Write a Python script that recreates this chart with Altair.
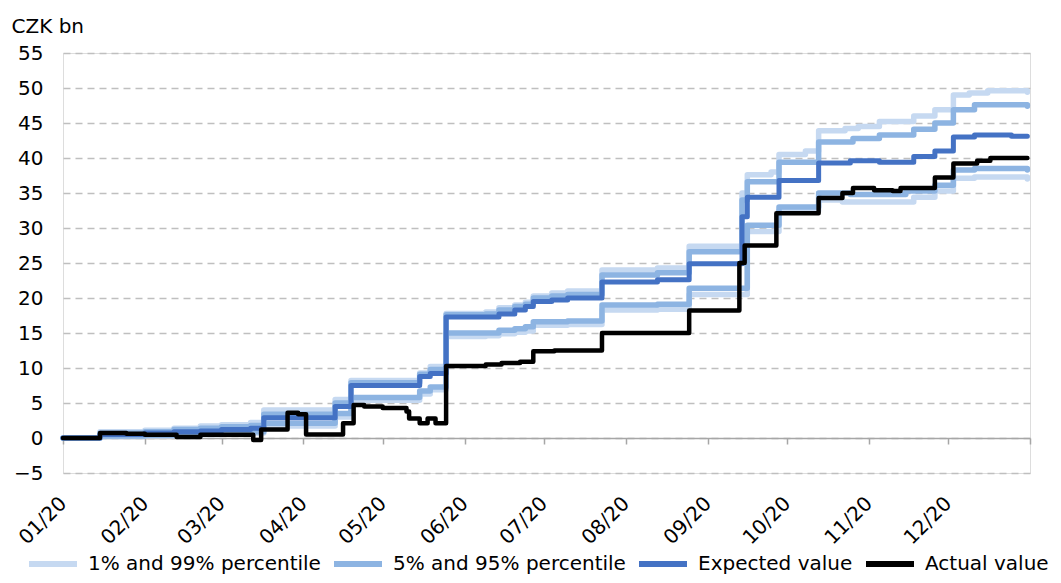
import altair as alt
import pandas as pd

# ---------------- data ----------------
p01_dates = ["2020-01-01", "2020-01-15", "2020-02-01", "2020-02-22", "2020-03-01", "2020-03-12",
             "2020-03-17", "2020-04-13", "2020-04-19", "2020-05-15", "2020-05-19", "2020-05-25",
             "2020-06-09", "2020-06-14", "2020-06-20", "2020-06-24", "2020-06-27", "2020-07-10",
             "2020-07-23", "2020-08-13", "2020-08-25", "2020-09-16", "2020-09-28", "2020-10-13",
             "2020-10-22", "2020-11-18", "2020-11-26", "2020-12-03", "2020-12-11", "2020-12-31"]
p01_values = [0, 0.2, 0.3, 0.5, 0.6, 0.7, 1.7, 3.0, 5.4, 6.3, 6.9, 14.5, 14.6, 14.9, 15.1, 15.3,
              16.1, 16.2, 18.3, 18.4, 20.5, 29.5, 32.5, 34.0, 33.7, 34.4, 35.3, 37.1, 37.3, 37.0]

p99_dates = ["2020-01-01", "2020-01-15", "2020-02-01", "2020-02-12", "2020-02-22", "2020-03-01",
             "2020-03-12", "2020-03-17", "2020-04-13", "2020-04-19", "2020-05-15", "2020-05-19",
             "2020-05-25", "2020-06-09", "2020-06-14", "2020-06-20", "2020-06-24", "2020-06-27",
             "2020-07-04", "2020-07-10", "2020-07-23", "2020-08-13", "2020-08-25", "2020-09-14",
             "2020-09-16", "2020-09-25", "2020-09-28", "2020-10-08", "2020-10-13", "2020-10-23",
             "2020-10-28", "2020-11-05", "2020-11-18", "2020-11-26", "2020-12-03", "2020-12-09",
             "2020-12-16", "2020-12-31"]
p99_values = [0, 0.9, 1.1, 1.4, 1.7, 1.9, 2.2, 4.0, 5.5, 8.2, 9.3, 10.2, 17.8, 18.0, 18.6, 19.0,
              19.4, 20.3, 20.7, 21.0, 24.0, 24.3, 27.4, 35.0, 37.6, 38.0, 40.5, 41.0, 43.9, 44.2,
              44.5, 45.2, 46.0, 46.9, 49.0, 49.3, 49.6, 49.4]

p05_dates = ["2020-01-01", "2020-01-15", "2020-02-01", "2020-02-22", "2020-03-01", "2020-03-12",
             "2020-03-17", "2020-04-13", "2020-04-19", "2020-05-15", "2020-05-19", "2020-05-25",
             "2020-06-09", "2020-06-14", "2020-06-20", "2020-06-24", "2020-06-27", "2020-07-10",
             "2020-07-23", "2020-08-13", "2020-08-25", "2020-09-16", "2020-09-28", "2020-10-13",
             "2020-10-25", "2020-11-15", "2020-11-26", "2020-12-03", "2020-12-11", "2020-12-31"]
p05_values = [0, 0.3, 0.4, 0.6, 0.8, 0.9, 2.1, 3.5, 5.8, 6.7, 7.3, 15.0, 15.0, 15.4, 15.6, 15.9,
              16.6, 16.7, 19.0, 19.1, 21.4, 30.4, 33.0, 35.0, 34.8, 35.3, 36.1, 38.3, 38.5, 38.3]

p95_dates = ["2020-01-01", "2020-01-15", "2020-02-01", "2020-02-12", "2020-02-22", "2020-03-01",
             "2020-03-12", "2020-03-17", "2020-04-13", "2020-04-19", "2020-05-15", "2020-05-19",
             "2020-05-25", "2020-06-09", "2020-06-14", "2020-06-20", "2020-06-24", "2020-06-27",
             "2020-07-04", "2020-07-10", "2020-07-23", "2020-08-13", "2020-08-25", "2020-09-14",
             "2020-09-16", "2020-09-28", "2020-10-13", "2020-10-26", "2020-11-05", "2020-11-18",
             "2020-11-26", "2020-12-03", "2020-12-11", "2020-12-31"]
p95_values = [0, 0.7, 0.9, 1.2, 1.4, 1.6, 1.8, 3.4, 5.0, 7.9, 9.1, 9.8, 17.6, 17.7, 18.3, 18.8,
              19.1, 20.0, 20.3, 20.5, 23.3, 23.6, 26.6, 34.0, 36.6, 39.4, 42.3, 42.8, 43.3, 44.1,
              45.0, 46.9, 47.6, 47.4]

expected_dates = ["2020-01-01", "2020-01-15", "2020-02-01", "2020-02-12", "2020-02-22", "2020-03-01",
                  "2020-03-12", "2020-03-17", "2020-04-13", "2020-04-19", "2020-05-15", "2020-05-19",
                  "2020-05-25", "2020-06-14", "2020-06-20", "2020-06-24", "2020-06-27", "2020-07-04",
                  "2020-07-10", "2020-07-23", "2020-08-13", "2020-08-25", "2020-09-14", "2020-09-16",
                  "2020-09-28", "2020-10-13", "2020-10-25", "2020-11-05", "2020-11-18", "2020-11-26",
                  "2020-12-03", "2020-12-11", "2020-12-25", "2020-12-31"]
expected_values = [0, 0.5, 0.7, 0.9, 1.0, 1.2, 1.4, 2.9, 4.5, 7.5, 8.8, 9.2, 17.3, 17.7, 18.3,
                   18.8, 19.5, 19.7, 20.0, 22.3, 22.6, 24.9, 31.6, 34.4, 36.8, 39.3, 39.6, 39.4,
                   40.2, 41.0, 43.0, 43.3, 43.1, 43.1]

actual_dates = ["2020-01-01", "2020-01-15", "2020-01-25", "2020-02-01", "2020-02-13", "2020-02-22",
                "2020-03-13", "2020-03-16", "2020-03-26", "2020-03-30", "2020-04-02", "2020-04-16",
                "2020-04-20", "2020-04-24", "2020-05-01", "2020-05-10", "2020-05-11", "2020-05-15",
                "2020-05-18", "2020-05-21", "2020-05-25", "2020-06-09", "2020-06-15", "2020-06-22",
                "2020-06-27", "2020-07-05", "2020-07-23", "2020-08-25", "2020-09-13", "2020-09-15",
                "2020-09-27", "2020-10-13", "2020-10-22", "2020-10-26", "2020-11-03", "2020-11-10",
                "2020-11-13", "2020-11-26", "2020-12-03", "2020-12-12", "2020-12-17", "2020-12-31"]
actual_values = [0, 0.7, 0.6, 0.45, 0.15, 0.45, -0.3, 1.2, 3.6, 3.4, 0.5, 2.1, 4.7, 4.5, 4.3,
                 3.8, 2.8, 2.1, 2.8, 2.1, 10.3, 10.5, 10.7, 10.9, 12.4, 12.5, 15.0, 18.2, 25.0,
                 27.5, 32.1, 34.3, 35.0, 35.7, 35.4, 35.3, 35.7, 37.2, 39.2, 39.6, 40.0, 40.0]

groups = ["1% and 99% percentile", "5% and 95% percentile", "Expected value", "Actual value"]
colors = ["#C6D9F1", "#8DB4E2", "#4472C4", "#000000"]

series = [
    ("p01", groups[0], p01_dates, p01_values),
    ("p99", groups[0], p99_dates, p99_values),
    ("p05", groups[1], p05_dates, p05_values),
    ("p95", groups[1], p95_dates, p95_values),
    ("exp", groups[2], expected_dates, expected_values),
    ("act", groups[3], actual_dates, actual_values),
]
rows = []
for sid, grp, ds, vs in series:
    for d, v in zip(ds, vs):
        rows.append({"series": sid, "group": grp, "date": d, "value": v})
df = pd.DataFrame(rows)

FONT = "DejaVu Sans"
month_ticks = [int(t.value // 10**6) for t in pd.date_range("2020-01-01", "2021-01-01", freq="MS", tz="UTC")]
x_domain = [month_ticks[0], month_ticks[-1]]

x_enc = alt.X(
    "date:T",
    scale=alt.Scale(type="utc", domain=x_domain),
    axis=alt.Axis(
        title=None, values=month_ticks, offset=-35, grid=False,
        domainColor="#A6A6A6", domainWidth=1.5, tickColor="#A6A6A6", tickWidth=1.5, tickSize=6,
        labelExpr="utcyear(datum.value) == 2021 ? '' : utcFormat(datum.value, '%m/%y')",
        labelAngle=-45, labelAlign="right", labelBaseline="middle", labelPadding=56,
        labelFont=FONT, labelFontSize=20, labelColor="#000000", labelFlush=False,
        labelOverlap=False,
    ),
)
y_enc = alt.Y(
    "value:Q",
    scale=alt.Scale(domain=[-5, 55], nice=False, zero=False),
    axis=alt.Axis(
        title="CZK bn", titleAngle=0, titleX=-52, titleY=-21, titleAlign="left",
        titleBaseline="alphabetic", titleFont=FONT, titleFontSize=20, titleFontWeight="normal",
        titleColor="#000000",
        values=list(range(-5, 60, 5)), domain=False, ticks=False,
        grid=True, gridColor="#BFBFBF", gridDash=[7, 5], gridWidth=1.3,
        labelFont=FONT, labelFontSize=20, labelColor="#000000", labelPadding=20,
    ),
)
color_enc = alt.Color(
    "group:N",
    scale=alt.Scale(domain=groups, range=colors),
    legend=alt.Legend(
        title=None, orient="none", legendX=-37, legendY=484, direction="horizontal",
        symbolType="stroke", symbolSize=2304, symbolStrokeWidth=6,
        labelFont=FONT, labelFontSize=20, labelColor="#000000", labelOffset=8,
        columnPadding=1, padding=0, labelLimit=400,
    ),
)

layers = []
widths = [5.5, 5.5, 5, 4.5]
for g, w in zip(groups, widths):
    layers.append(
        alt.Chart(df)
        .transform_filter(alt.datum.group == g)
        .mark_line(interpolate="step-after", strokeWidth=w, strokeCap="round", strokeJoin="round")
        .encode(x=x_enc, y=y_enc, color=color_enc, detail="series:N")
    )

chart = (
    alt.layer(*layers)
    .properties(
        width=967, height=420,
        autosize=alt.AutoSizeParams(type="none"),
        padding={"left": 55, "top": 45, "right": 23, "bottom": 101},
    )
    .configure_view(stroke=None)
    .configure(background="white")
)
chart.save("out.html", embed_options={"renderer": "svg", "actions": False})
